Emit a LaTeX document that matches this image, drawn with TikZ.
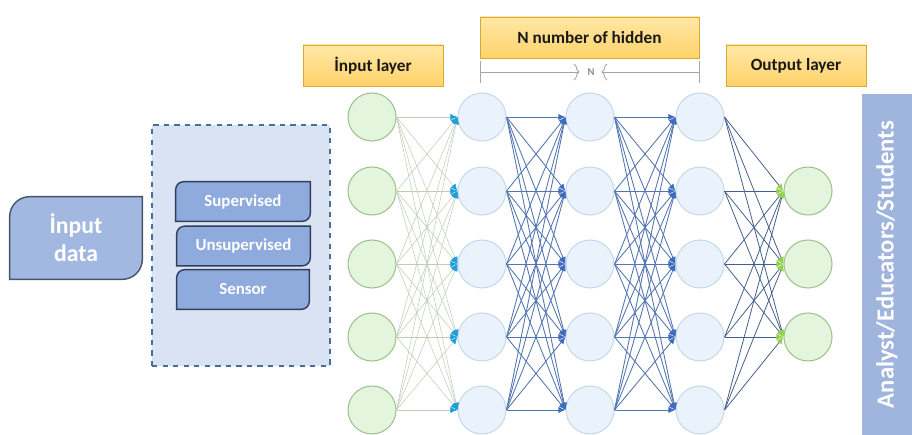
\documentclass[tikz,border=0pt]{standalone}
\usepackage{fontspec}
\setmainfont{Carlito}
\usetikzlibrary{positioning, calc, arrows.meta, shapes.geometric}

\definecolor{infill}{HTML}{E3F5DC}
\definecolor{indraw}{HTML}{9DC290}
\definecolor{hidfill}{HTML}{EAF3FB}
\definecolor{hiddraw}{HTML}{C5D9E8}
\definecolor{inlinkcol}{HTML}{BFCDB5}
\definecolor{intipcol}{HTML}{1F9ED8}
\definecolor{hidlinkcol}{HTML}{5676B0}
\definecolor{hidtipcol}{HTML}{3D6CC0}
\definecolor{outtipcol}{HTML}{92D050}
\definecolor{labtop}{HTML}{FFE7A6}
\definecolor{labbot}{HTML}{FFD36A}
\definecolor{labdraw}{HTML}{D9A934}
\definecolor{datafill}{HTML}{A3B8E0}
\definecolor{datadraw}{HTML}{44546A}
\definecolor{dashfill}{HTML}{DAE3F3}
\definecolor{dashdraw}{HTML}{41719C}
\definecolor{subfill}{HTML}{8FAADC}
\definecolor{subdraw}{HTML}{2F3E5C}
\definecolor{barfill}{HTML}{A0B5DE}

\tikzstyle{InLink} = [draw=inlinkcol, line width=0.3pt,
  -{Latex[length=4pt, width=3.5pt, color=intipcol]}]
\tikzstyle{HidLink} = [draw=hidlinkcol, line width=0.5pt,
  -{Latex[length=4pt, width=3.5pt, color=hidtipcol]}]
\tikzstyle{OutLink} = [draw=hidlinkcol!80!black, line width=0.45pt,
  -{Latex[length=4pt, width=3.5pt, color=outtipcol]}]

\begin{document}
\begin{tikzpicture}[x=0.02cm, y=-0.02cm,
    inneuron/.style = {circle, draw=indraw, fill=infill, line width=0.6pt, minimum size=0.96cm, inner sep=0pt},
    hidneuron/.style = {circle, draw=hiddraw, fill=hidfill, line width=0.6pt, minimum size=0.96cm, inner sep=0pt},
    layerlabel/.style = {rectangle, draw=labdraw, top color=labtop, bottom color=labbot, line width=0.5pt,
      minimum height=0.82cm, font=\fontsize{9.8}{11}\selectfont\bfseries, text=black!90},
    subbox/.style = {draw=subdraw, fill=subfill, line width=0.8pt},
    subtext/.style = {font=\fontsize{9.6}{11}\selectfont\bfseries, text=white},
  ]

  \useasboundingbox (0,0) rectangle (912,435);

  % neurons
  \foreach \i/\y in {1/117, 2/191, 3/264, 4/337, 5/410} {
    \node[inneuron] (I\i) at (372,\y) {};
    \node[hidneuron] (A\i) at (482,\y) {};
    \node[hidneuron] (B\i) at (590,\y) {};
    \node[hidneuron] (C\i) at (700,\y) {};
  }
  \foreach \j/\y in {1/191, 2/264, 3/337}
    \node[inneuron] (O\j) at (808,\y) {};

  % connections
  \foreach \i in {1,...,5} {
    \foreach \k in {1,...,5} {
      \draw[InLink] (I\i.east) -- (A\k.west);
      \draw[HidLink] (A\i.east) -- (B\k.west);
      \draw[HidLink] (B\i.east) -- (C\k.west);
    }
    \foreach \j in {1,2,3}
      \draw[OutLink] (C\i.east) -- (O\j.west);
  }

  % layer labels
  \node[layerlabel, minimum width=2.8cm] (inlab) at (373,65.5) {İnput layer};
  \node[layerlabel, minimum width=4.38cm] (hidlab) at (589.5,37.5) {N number of hidden};
  \node[layerlabel, minimum width=2.8cm] (outlab) at (796,65.5) {Output layer};

  % N span under the hidden label
  \coordinate (spanL) at (480,72);
  \coordinate (spanR) at (699,72);
  \node[font=\fontsize{6}{7}\selectfont\bfseries, text=black!45] (nmark) at (591,72) {N};
  \draw[black!35, line width=0.5pt] ($(spanL)+(0,-11)$) -- ($(spanL)+(0,11)$);
  \draw[black!35, line width=0.5pt] ($(spanR)+(0,-11)$) -- ($(spanR)+(0,11)$);
  \draw[black!35, line width=0.5pt] (spanL) -- (578,72);
  \draw[black!35, line width=0.5pt] (574,64) .. controls (578,66) and (575,70) .. (579,72) .. controls (575,74) and (578,78) .. (574,80);
  \draw[black!35, line width=0.5pt] (spanR) -- (603,72);
  \draw[black!35, line width=0.5pt] (607,64) .. controls (603,66) and (606,70) .. (602,72) .. controls (606,74) and (603,78) .. (607,80);

  % input data
  \node[minimum width=2.64cm, minimum height=1.64cm] (data) at (76,238) {};
  \draw[draw=datadraw, fill=datafill, line width=0.8pt]
    (data.south west) [rounded corners=0.4cm] -- (data.north west) [sharp corners] -- (data.north east)
    [rounded corners=0.4cm] -- (data.south east) [sharp corners] -- cycle;
  \node[font=\fontsize{13.5}{16}\selectfont\bfseries, text=white, align=center] at (data) {İnput\\data};

  % learning types
  \node[draw=dashdraw, dashed, fill=dashfill, line width=0.6pt, minimum width=3.56cm,
    minimum height=4.82cm] (types) at (241,245.5) {};
  \foreach \n/\x/\y/\w/\t in {sup/243/201.5/2.68cm/Supervised, unsup/243.5/246/2.66cm/Unsupervised, sens/243/289.5/2.64cm/Sensor} {
    \node[minimum width=\w, minimum height=0.78cm] (\n) at (\x,\y) {};
    \draw[subbox] (\n.south west) [rounded corners=0.16cm] -- (\n.north west) [sharp corners] -- (\n.north east)
      [rounded corners=0.16cm] -- (\n.south east) [sharp corners] -- cycle;
    \node[subtext] at (\n) {\t};
  }

  % users
  \node[fill=barfill, minimum width=1cm, minimum height=6.82cm, inner sep=0pt] (users) at (887,264.5) {};
  \node[rotate=90, font=\fontsize{14}{16}\selectfont\bfseries, text=white] at (users) {Analyst/Educators/Students};

\end{tikzpicture}
\end{document}
